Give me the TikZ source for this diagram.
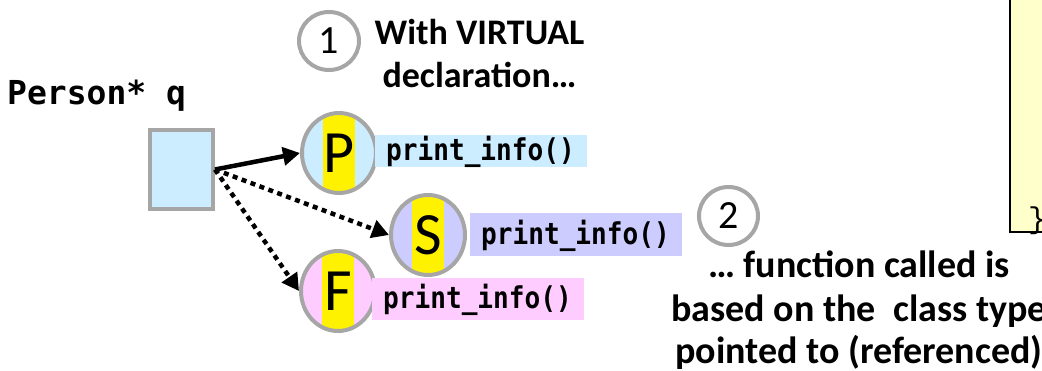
\documentclass[tikz,border=0pt]{standalone}
\usepackage{fontspec}
\setmainfont{Carlito}
\newfontfamily\codefont{DejaVu Sans Mono}
\newfontfamily\infofont[FakeStretch=0.87]{DejaVu Sans Mono}
\newfontfamily\bracefont{Liberation Mono}
\usetikzlibrary{arrows.meta,shapes.geometric}

\definecolor{ptrblue}{HTML}{CCECFF}
\definecolor{studlilac}{HTML}{CCCCFF}
\definecolor{facpink}{HTML}{FFCCFF}
\definecolor{codeyellow}{HTML}{FFFFCC}
\definecolor{ringgray}{HTML}{A6A6A6}

\begin{document}
\begin{tikzpicture}[x=1pt, y=-1pt,
    ring/.style={ellipse, draw=ringgray, line width=4pt, inner sep=0pt},
    ball/.style={ring, minimum width=74pt, minimum height=80pt,
      path picture={\fill[yellow] ([xshift=-16pt]path picture bounding box.north)
        rectangle ([xshift=16pt]path picture bounding box.south);},
      font=\fontsize{60}{60}\selectfont},
    infobox/.style={inner sep=0pt, minimum width=212pt, minimum height=32pt,
      text height=20pt, text depth=0pt, font=\infofont\bfseries\fontsize{30}{30}\selectfont},
    note/.style={align=center, anchor=base, font=\bfseries\fontsize{36}{43}\selectfont},
    ptr/.style={line width=4.5pt, -{Triangle[length=17pt,width=18pt]}},
    ptrdot/.style={ptr, dash pattern=on 5pt off 4.5pt}]

    \useasboundingbox (0,0) rectangle (1042,371);
    \clip (0,0) rectangle (1042,371);

    % Code box at the right border
    \draw[fill=codeyellow, line width=2pt] (1010,-10) rectangle (1070,232);
    \node[anchor=base west, inner sep=0pt, font=\bracefont\fontsize{30}{30}\selectfont] (brace) at (1028,229) {\}};

    % Pointer q
    \node[anchor=base west, inner sep=0pt, font=\codefont\bfseries\fontsize{33}{33}\selectfont] (qname) at (7,105) {Person* q};
    \node[draw=ringgray, line width=4pt, fill=ptrblue, minimum width=63pt, minimum height=79pt] (q) at (181.5,169.5) {};

    % Objects and their functions
    \node[ball, fill=ptrblue] (P) at (339,153) {P};
    \node[infobox, fill=ptrblue] (Pinfo) at (480.5,151) {print\_info()};

    \node[ball, fill=studlilac] (S) at (428,235) {S};
    \node[infobox, fill=studlilac, minimum height=43pt] (Sinfo) at (575.5,235) {print\_info()};

    \node[ball, fill=facpink] (F) at (338,291) {F};
    \node[infobox, fill=facpink, minimum height=42pt] (Finfo) at (477.5,299) {print\_info()};

    % Pointer arrows
    \draw[ptr] (q.east) -- (P.west);
    \draw[ptrdot] (q.east) -- (S.west);
    \draw[ptrdot] (q.east) -- (F.west);

    % Numbered remarks (base anchor sits on the last line)
    \node[ring, minimum width=60pt, minimum height=58pt, font=\fontsize{40}{40}\selectfont] (one) at (329,41) {1};
    \node[note] (virtual) at (479.5,88) {With VIRTUAL\\declaration…};

    \node[ring, minimum width=59pt, minimum height=58pt, font=\fontsize{40}{40}\selectfont] (two) at (728.5,216) {2};
    \node[note, font=\bfseries\fontsize{38}{43}\selectfont] (called) at (859,364) {… function called is\\based on the\ \ class type\\pointed to (referenced)};
\end{tikzpicture}
\end{document}
